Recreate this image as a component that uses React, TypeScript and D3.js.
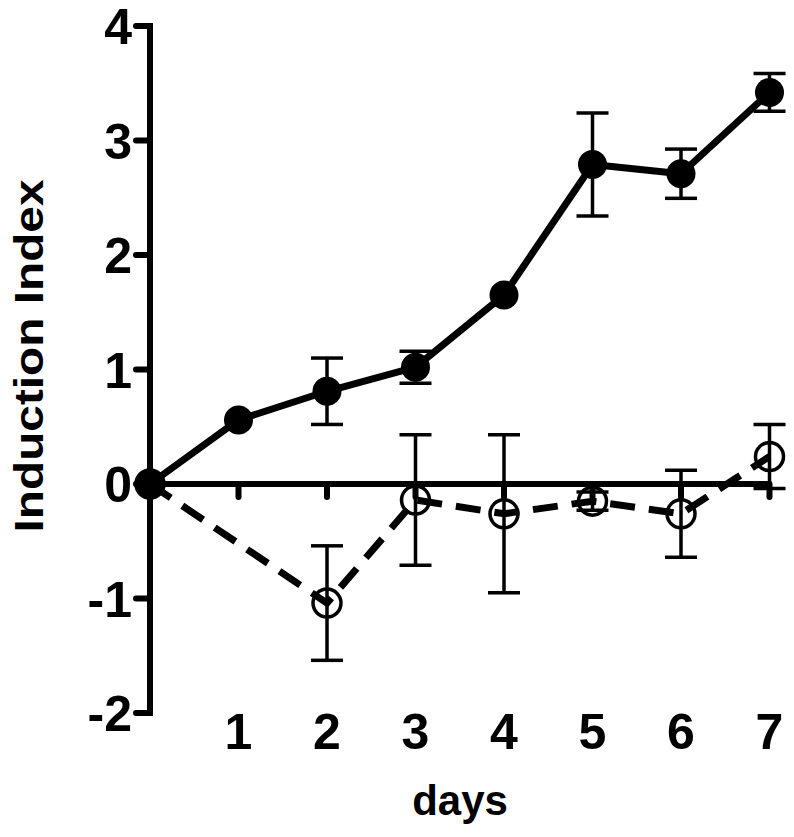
import React from "react";
import * as d3 from "d3";

const days = [0, 1, 2, 3, 4, 5, 6, 7];
const filledValues = [0, 0.56, 0.81, 1.02, 1.65, 2.79, 2.71, 3.42];
const filledErrors = [0, 0, 0.29, 0.14, 0, 0.45, 0.215, 0.165];
const openDays = [0, 2, 3, 4, 5, 6, 7];
const openValues = [0, -1.04, -0.14, -0.26, -0.15, -0.26, 0.24];
const openErrors = [0, 0.5, 0.57, 0.69, 0.08, 0.38, 0.28];
const yTicks = [-2, -1, 0, 1, 2, 3, 4];
const xTicks = [1, 2, 3, 4, 5, 6, 7];

export default function App() {
  const x = d3.scaleLinear().domain([0, 7]).range([150, 769.5]);
  const y = d3.scaleLinear().domain([-2, 4]).range([713, 26]);
  const font = "'Liberation Sans', Arial, Helvetica, sans-serif";

  const filled = days.map((d, i) => ({ d, v: filledValues[i], e: filledErrors[i] }));
  const open = openDays.map((d, i) => ({ d, v: openValues[i], e: openErrors[i] }));
  const line = d3
    .line<{ d: number; v: number }>()
    .x((p) => x(p.d))
    .y((p) => y(p.v));

  const capW = 16;

  return (
    <div style={{ position: "absolute", left: 0, top: 0 }}>
      <svg width={794} height={837} style={{ display: "block", background: "#fff" }}>
        {/* Y axis */}
        <line x1={x(0)} x2={x(0)} y1={y(4)} y2={y(-2)} stroke="#000" strokeWidth={6} strokeLinecap="square" />
        {yTicks.map((t) => (
          <g key={"yt" + t}>
            <line x1={x(0) - 14} x2={x(0)} y1={y(t)} y2={y(t)} stroke="#000" strokeWidth={6} strokeLinecap="round" />
            <text x={132} y={y(t)} dy="0.36em" textAnchor="end" fontFamily={font} fontWeight="bold" fontSize={50}>
              {t}
            </text>
          </g>
        ))}
        {/* X axis at zero */}
        <line x1={x(0)} x2={x(7)} y1={y(0)} y2={y(0)} stroke="#000" strokeWidth={6} />
        {xTicks.map((t) => (
          <g key={"xt" + t}>
            <line x1={x(t)} x2={x(t)} y1={y(0)} y2={y(0) + 13} stroke="#000" strokeWidth={6} strokeLinecap="round" />
            <text x={x(t)} y={749} textAnchor="middle" fontFamily={font} fontWeight="bold" fontSize={50}>
              {t}
            </text>
          </g>
        ))}
        <text x={460} y={815} textAnchor="middle" fontFamily={font} fontWeight="bold" fontSize={42}>
          days
        </text>
        <text
          transform="translate(43,356) rotate(-90)"
          textAnchor="middle"
          fontFamily={font}
          fontWeight="bold"
          fontSize={40}
          textLength={353}
          lengthAdjust="spacingAndGlyphs"
        >
          Induction Index
        </text>

        {/* Open series */}
        {open.map((p) =>
          p.e > 0 ? (
            <g key={"oe" + p.d} stroke="#000" strokeWidth={3.5}>
              <line x1={x(p.d)} x2={x(p.d)} y1={y(p.v + p.e)} y2={y(p.v - p.e)} />
              <line x1={x(p.d) - capW} x2={x(p.d) + capW} y1={y(p.v + p.e)} y2={y(p.v + p.e)} />
              <line x1={x(p.d) - capW} x2={x(p.d) + capW} y1={y(p.v - p.e)} y2={y(p.v - p.e)} />
            </g>
          ) : null
        )}
        <path d={line(open) || ""} fill="none" stroke="#000" strokeWidth={7} strokeDasharray="25 14" />
        {open.map((p) => (
          <circle key={"oc" + p.d} cx={x(p.d)} cy={y(p.v)} r={14} fill="none" stroke="#000" strokeWidth={3.5} />
        ))}

        {/* Filled series */}
        {filled.map((p) =>
          p.e > 0 ? (
            <g key={"fe" + p.d} stroke="#000" strokeWidth={3.5}>
              <line x1={x(p.d)} x2={x(p.d)} y1={y(p.v + p.e)} y2={y(p.v - p.e)} />
              <line x1={x(p.d) - capW} x2={x(p.d) + capW} y1={y(p.v + p.e)} y2={y(p.v + p.e)} />
              <line x1={x(p.d) - capW} x2={x(p.d) + capW} y1={y(p.v - p.e)} y2={y(p.v - p.e)} />
            </g>
          ) : null
        )}
        <path d={line(filled) || ""} fill="none" stroke="#000" strokeWidth={7} strokeLinejoin="round" />
        {filled.map((p) => (
          <circle key={"fc" + p.d} cx={x(p.d)} cy={y(p.v)} r={14.5} fill="#000" />
        ))}
      </svg>
    </div>
  );
}
